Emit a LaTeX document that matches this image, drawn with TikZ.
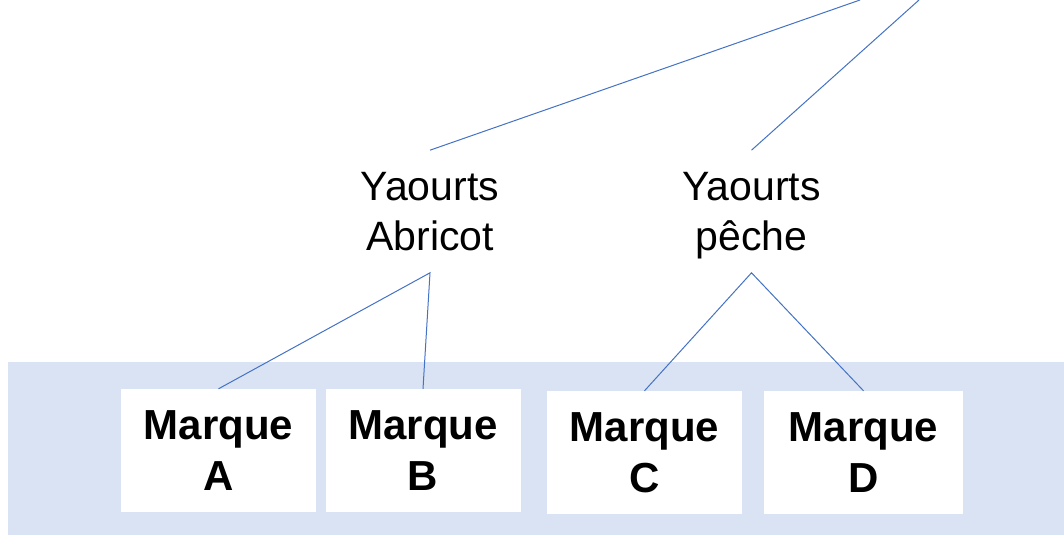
\documentclass[tikz,border=0pt]{standalone}
\usepackage{fontspec}
\setmainfont{Liberation Sans}
\usepackage{tikz}
\definecolor{bandblue}{RGB}{218,227,243}
\definecolor{linkblue}{RGB}{68,114,196}

\begin{document}
\begin{tikzpicture}[x=1pt,y=-1pt,
  yaourt/.style={inner xsep=0pt,inner ysep=22pt,text depth=0pt,align=center,font=\fontsize{41}{50}\selectfont},
  marque/.style={fill=white,minimum width=195pt,minimum height=123pt,inner sep=0pt,align=center,font=\bfseries\fontsize{42}{51}\selectfont},
  link/.style={linkblue,line width=1pt}]
            \useasboundingbox (0,0) rectangle (1064,535);
            \fill[bandblue] (8,362) rectangle (1064,535);
            \node[marque] (ma) at (218.5,450.5) {Marque\\A};
            \node[marque] (mb) at (423,450.5) {Marque\\B};
            \node[marque] (mc) at (644.5,452.5) {Marque\\C};
            \node[marque,minimum width=199pt] (md) at (863.5,452.5) {Marque\\D};
            \node[yaourt] (ab) at (430,211.5) {Yaourts\\Abricot};
            \node[yaourt] (pe) at (751.5,211.5) {Yaourts\\pêche};
            \coordinate (t1) at (860,0);
            \coordinate (t2) at (919,0);
            \draw[link] (t1) -- (ab.north);
            \draw[link] (t2) -- (pe.north);
            \draw[link] (ma.north) -- (ab.south) -- (mb.north);
            \draw[link] (mc.north) -- (pe.south) -- (md.north);
        \end{tikzpicture}
\end{document}
